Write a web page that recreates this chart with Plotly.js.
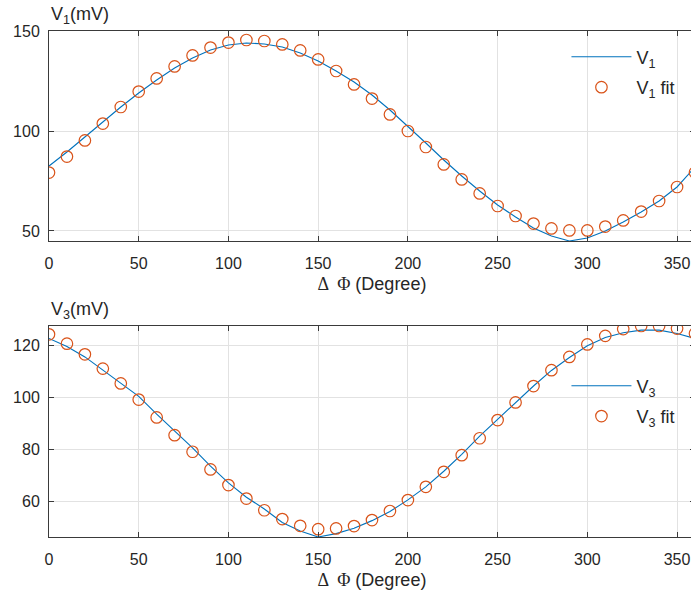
<!DOCTYPE html>
<html><head><meta charset="utf-8">
<script src="https://cdn.plot.ly/plotly-3.0.1.min.js"></script>
<style>html,body{margin:0;padding:0;overflow:hidden;background:#fff}#chart{width:698px;height:595px}</style>
</head><body><div id="chart"></div>
<script>
const phi = [0,10,20,30,40,50,60,70,80,90,100,110,120,130,140,150,160,170,180,190,200,210,220,230,240,250,260,270,280,290,300,310,320,330,340,350,360];
const v1Line = [82.5,89.5,97,104.5,112,119,125.5,131.5,136.5,140.5,143,144,143.5,142,139,135,130,124.5,118,110.5,102.5,94,85.5,77.5,70,63,57,51.5,47.5,45,46.5,50,54.5,59.5,65,72,82];
const v1Fit = [79.2,87.2,95.3,103.7,112,119.7,126.3,132.3,137.8,141.7,144.2,145.5,145,143.3,140.3,135.8,130,123.3,116.2,108.3,100,92,83.3,75.8,68.8,62.5,57.5,53.7,51.3,50.3,50.3,52.2,55.3,59.7,65,72,79.2];
const v3Line = [122.6,119.5,115.5,110.5,105.5,100.3,93.5,87,80.5,73.5,67,61.5,57,51.8,48.5,46.2,47.5,49.6,52.5,56,60.5,65.5,71.5,78,85,91.5,98,104.3,110.3,115.3,119.8,123,124.8,125.8,125.8,124.5,122.6];
const v3Fit = [124.2,120.6,116.5,111,105.3,99.1,92.2,85.4,79,72.2,66.2,61,56.5,53.1,50.5,49.2,49.5,50.4,52.7,56.2,60.4,65.5,71.3,77.7,84.2,91.2,98,104.3,110.4,115.5,120.3,123.6,126.2,127.4,127.4,126.4,124.5];
const xTicks = [0,50,100,150,200,250,300,350];
const y1Ticks = [50,100,150];
const y2Ticks = [60,80,100,120];
const v1Names = ['V<sub>1</sub>', 'V<sub>1</sub> fit'];
const v3Names = ['V<sub>3</sub>', 'V<sub>3</sub> fit'];
const yLabels = ['V<sub>1</sub>(mV)', 'V<sub>3</sub>(mV)'];
const xLabel = '<span style="font-family:\'Liberation Serif\',serif">Δ  Φ</span> (Degree)';

const FONT = 'Liberation Sans, Arial, sans-serif';
const lineColor = '#0072BD', fitColor = '#D95319';

const traces = [
  {x: phi, y: v1Line, type:'scatter', mode:'lines', name: v1Names[0], legendgroup:'a', line:{color: lineColor, width:1.1}, xaxis:'x', yaxis:'y', legend:'legend'},
  {x: phi, y: v1Fit, type:'scatter', mode:'markers', name: v1Names[1], legendgroup:'b', marker:{symbol:'circle-open', size:11.5, color: fitColor, line:{width:1.2}}, xaxis:'x', yaxis:'y', legend:'legend'},
  {x: phi, y: v3Line, type:'scatter', mode:'lines', name: v3Names[0], legendgroup:'c', line:{color: lineColor, width:1.1}, xaxis:'x2', yaxis:'y2', legend:'legend2'},
  {x: phi, y: v3Fit, type:'scatter', mode:'markers', name: v3Names[1], legendgroup:'d', marker:{symbol:'circle-open', size:11.5, color: fitColor, line:{width:1.2}}, xaxis:'x2', yaxis:'y2', legend:'legend2'}
];

function ax(extra){
  return Object.assign({
    showline:true, linecolor:'#3a3a3a', linewidth:1, mirror:'ticks', ticks:'inside', ticklen:5, tickcolor:'#3a3a3a', tickwidth:1,
    showgrid:true, gridcolor:'#e2e2e2', gridwidth:1, zeroline:false, fixedrange:true,
    tickfont:{family: FONT, size:16, color:'#262626'}
  }, extra);
}
const xTitle = {text: xLabel, font:{family: FONT, size:18, color:'#262626'}, standoff: 6};
const legendCommon = {xanchor:'left', yanchor:'top', bgcolor:'rgba(255,255,255,0)', borderwidth:0, itemwidth:60, tracegroupgap:4, font:{family: FONT, size:18, color:'#262626'}};

const layout = {
  width: 698, height: 595,
  margin:{l:49, r:3, t:31, b:58},
  paper_bgcolor:'#fff', plot_bgcolor:'#fff',
  font:{family: FONT, color:'#262626'},
  showlegend:true,
  xaxis: ax({domain:[0,1], range:[0,360], tickvals:xTicks, anchor:'y', ticklabelstandoff:8, title: xTitle}),
  yaxis: ax({domain:[0.585,1], range:[45,150], tickvals:y1Ticks, anchor:'x', ticklabelstandoff:5}),
  xaxis2: ax({domain:[0,1], range:[0,360], tickvals:xTicks, anchor:'y2', ticklabelstandoff:8, title: xTitle}),
  yaxis2: ax({domain:[0,0.417], range:[46.2,127.4], tickvals:y2Ticks, anchor:'x2', ticklabelstandoff:5}),
  legend: Object.assign({x:0.801, y:0.985}, legendCommon),
  legend2: Object.assign({x:0.801, y:0.335}, legendCommon),
  annotations:[
    {xref:'paper', yref:'paper', x:0, y:1, xanchor:'left', yanchor:'bottom', yshift:2, showarrow:false, text: yLabels[0], font:{family: FONT, size:18, color:'#262626'}},
    {xref:'paper', yref:'paper', x:0, y:0.417, xanchor:'left', yanchor:'bottom', yshift:2, showarrow:false, text: yLabels[1], font:{family: FONT, size:18, color:'#262626'}}
  ]
};

Plotly.newPlot('chart', traces, layout, {displayModeBar:false, staticPlot:true});
</script>
</body></html>
